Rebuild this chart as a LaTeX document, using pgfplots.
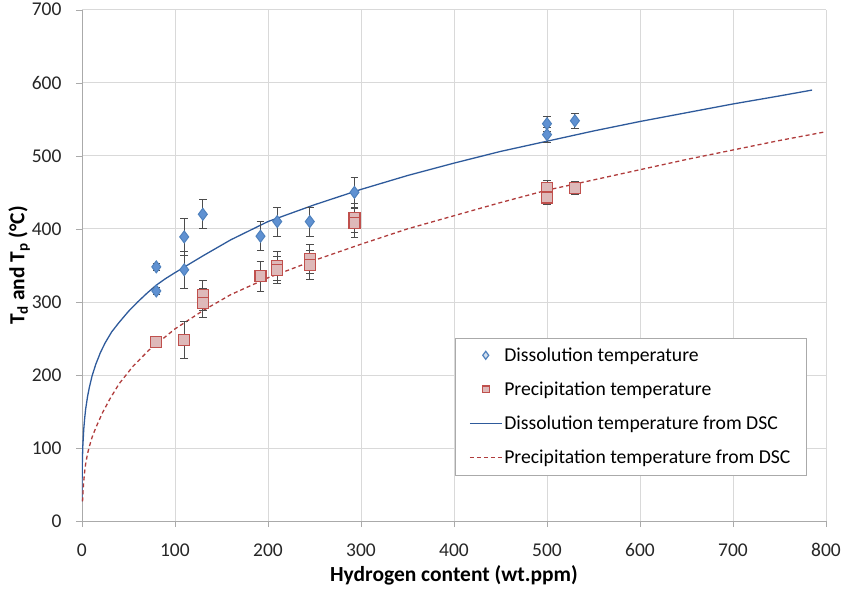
\documentclass[border=0pt]{standalone}
\usepackage{pgfplots}
\pgfplotsset{compat=1.18}
\usepackage{fontspec}
\setmainfont{Carlito}
\definecolor{dblue}{RGB}{79,129,189}
\definecolor{dfill}{RGB}{95,145,210}
\definecolor{lblue}{RGB}{46,90,155}
\definecolor{dred}{RGB}{192,80,77}
\definecolor{rfill}{RGB}{222,185,185}
\definecolor{lred}{RGB}{176,60,60}
\definecolor{gridc}{RGB}{217,217,217}
\definecolor{axc}{RGB}{170,170,170}
\begin{document}
\begin{tikzpicture}
\begin{axis}[
  scale only axis,
  width=745pt, height=512pt,
  xmin=0, xmax=800, ymin=0, ymax=700,
  xtick={0,100,...,800}, ytick={0,100,...,700},
  axis x line*=bottom, axis y line*=left,
  axis line style={axc},
  tick style={axc},
  tick align=outside,
  major tick length=6pt,
  grid=major,
  major grid style={gridc, line width=0.8pt},
  /pgf/number format/assume math mode=true,
  tick label style={font=\fontsize{19.5}{22}\selectfont, text=black!85},
  xticklabel style={yshift=-13pt},
  yticklabel style={xshift=-11pt},
  xlabel={\textbf{Hydrogen content (wt.ppm)}},
  ylabel={\textbf{T\textsubscript{d} and T\textsubscript{p} (°C)}},
  label style={font=\fontsize{21.5}{24}\selectfont},
  xlabel style={yshift=-2pt},
  ylabel style={yshift=-5pt},
  legend style={at={(0.974,0.359)}, anchor=north east, draw=axc, fill=white,
    font=\fontsize{19.7}{23}\selectfont, row sep=15pt, inner xsep=14pt, inner ysep=8pt,
    nodes={inner xsep=2pt},
    cells={anchor=west}},
  legend cell align=left,
  legend image code/.code={\draw[mark repeat=2,mark phase=2,#1] plot coordinates {(0cm,0cm) (0.56cm,0cm) (1.12cm,0cm)};},
]
\addlegendimage{only marks, mark=diamond*, mark size=4pt, mark options={draw=dblue, fill=dblue!25, line width=1.2pt}}
\addlegendentry{Dissolution temperature}
\addlegendimage{only marks, mark=square*, mark size=3.5pt, mark options={draw=dred, fill=rfill, line width=1.2pt}}
\addlegendentry{Precipitation temperature}
\addlegendimage{lblue, line width=1.3pt}
\addlegendentry{Dissolution temperature from DSC}
\addlegendimage{lred, line width=1.3pt, dash pattern=on 4pt off 3pt}
\addlegendentry{Precipitation temperature from DSC}
\addplot[forget plot, lblue, line width=1.3pt] coordinates {
(0.05,27) (0.2,58) (0.5,82) (1,103) (2,126) (3,141) (4,153) (6,170) (8,183)
(11,199) (15,215) (20,231) (25,244) (32,259) (40,272) (50,287) (60,300)
(70,312) (80,323) (90,332) (100,340) (130,363) (160,385) (200,410) (250,433)
(300,454) (350,473) (400,490) (450,506) (500,520) (550,534) (600,547)
(650,559) (700,571) (750,582) (785,590)
};
\addplot[forget plot, lred, line width=1.3pt, dash pattern=on 4pt off 3pt] coordinates {
(0.7,27) (1,35) (1.5,46) (2,55) (3,68) (4,78) (6,92) (8,102) (11,115) (15,128)
(22,148) (30,167) (40,188) (55,212) (72,234) (100,263) (130,288) (160,310)
(200,333) (250,357) (300,379) (350,400) (400,418) (450,436) (500,453)
(550,467) (600,481) (650,495) (700,508) (750,521) (800,533)
};
\addplot[forget plot, only marks, mark=diamond*, mark size=6pt, mark options={draw=dblue, fill=dfill, line width=1pt},
  error bars/.cd, y dir=both, y explicit,
  error bar style={black!70, line width=0.8pt},
  error mark options={rotate=90, mark size=3.8pt, black!70, line width=0.8pt}]
  table[x=x, y=y, y error=e] {
x y e
80 348 5
80 315 5
110 389 25
110 344 25
130 420 20
192 390 20
210 410 20
245 410 20
293 450 20
500 544 10
500 529 10
530 548 10
};
\addplot[forget plot, only marks, mark=square*, mark size=5.5pt, mark options={draw=dred, fill=rfill, line width=1.2pt},
  error bars/.cd, y dir=both, y explicit,
  error bar style={black!70, line width=0.8pt},
  error mark options={rotate=90, mark size=3.8pt, black!70, line width=0.8pt}]
  table[x=x, y=y, y error=e] {
x y e
80 245 5
110 248 25
130 309 20
130 299 20
192 335 20
210 349 20
210 344 18
245 359 20
245 351 20
293 415 20
293 408 20
500 456 10
500 443 10
530 456 9
};
\end{axis}
\path (current axis.south east) ++(22pt,0pt);
\path (current axis.south west) ++(-82pt,0pt);
\end{tikzpicture}
\end{document}
